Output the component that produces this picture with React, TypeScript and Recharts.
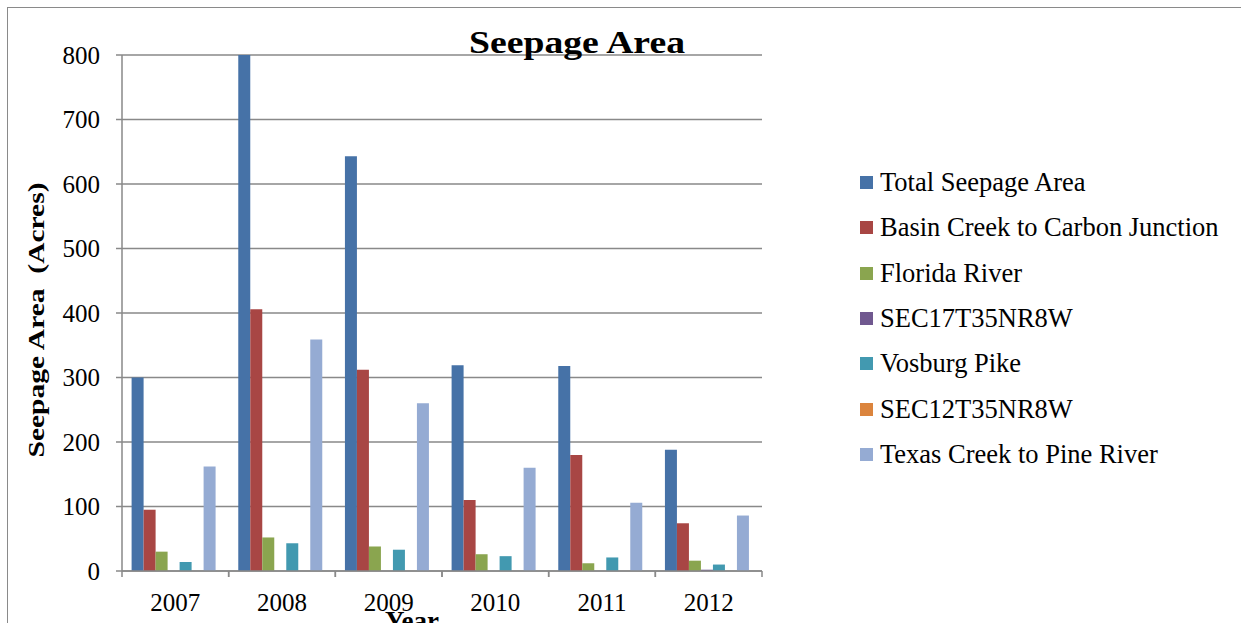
import React from 'react';
import { BarChart, Bar, XAxis, YAxis, CartesianGrid, Legend } from 'recharts';

const years = ['2007', '2008', '2009', '2010', '2011', '2012'];
const totalSeepage = [300, 800, 643, 319, 318, 188];
const basinCreek = [95, 406, 312, 110, 180, 74];
const floridaRiver = [30, 52, 38, 26, 12, 16];
const sec17 = [0, 0, 0, 0, 0, 2];
const vosburgPike = [14, 43, 33, 23, 21, 10];
const sec12 = [0, 0, 0, 0, 0, 0];
const texasCreek = [162, 359, 260, 160, 106, 86];

const yTicks = [0, 100, 200, 300, 400, 500, 600, 700, 800];

const seriesNames = [
  'Total Seepage Area',
  'Basin Creek to Carbon Junction',
  'Florida River',
  'SEC17T35NR8W',
  'Vosburg Pike',
  'SEC12T35NR8W',
  'Texas Creek to Pine River',
];
const seriesValues = [totalSeepage, basinCreek, floridaRiver, sec17, vosburgPike, sec12, texasCreek];
const seriesColors = ['#4672A7', '#A84644', '#8AA54F', '#70588F', '#4299B0', '#DB843D', '#95ABD3'];
const seriesKeys = ['s0', 's1', 's2', 's3', 's4', 's5', 's6'];

const data = years.map((year, i) => {
  const row: Record<string, string | number> = { year };
  seriesKeys.forEach((k, j) => {
    row[k] = seriesValues[j][i];
  });
  return row;
});

const FONT = '"Liberation Serif", "Times New Roman", serif';
const GRID = '#898989';
const X_TICK_GAP = 22;
const X_TICK_LEN = 6;

const LegendContent = () => (
  <div style={{ fontFamily: FONT, fontSize: 26.5, color: '#000' }}>
    {seriesNames.map((name, i) => (
      <div key={name} style={{ display: 'flex', alignItems: 'center', height: 45.3, whiteSpace: 'nowrap' }}>
        <span style={{ display: 'inline-block', width: 13, height: 13, background: seriesColors[i], marginRight: 7 }} />
        <span>{name}</span>
      </div>
    ))}
  </div>
);

const YearTick = (props: any) => {
  const { x, y, payload } = props;
  const half = payload && typeof payload.offset === 'number' ? payload.offset : 0;
  const axisY = y - X_TICK_GAP;
  return (
    <g>
      {half > 0 && (
        <>
          <line x1={x - half} x2={x - half} y1={axisY} y2={axisY + X_TICK_LEN} stroke={GRID} strokeWidth={1.5} />
          <line x1={x + half} x2={x + half} y1={axisY} y2={axisY + X_TICK_LEN} stroke={GRID} strokeWidth={1.5} />
        </>
      )}
      <text x={x} y={y} dy="0.71em" textAnchor="middle" fill="#000" fontSize={25} fontFamily={FONT}>
        {payload.value}
      </text>
    </g>
  );
};

export default function App() {
  return (
    <div style={{ position: 'absolute', left: 0, top: 0, width: 1241, height: 623, overflow: 'hidden', background: '#fff' }}>
      <div style={{ position: 'absolute', left: 7, top: 7, width: 1300, height: 700, border: '1.5px solid #8a8a8a', boxSizing: 'border-box' }} />
      <div style={{ position: 'absolute', left: 0, top: 0 }}>
        <BarChart
          width={1241}
          height={623}
          data={data}
          margin={{ top: 55, right: 479, bottom: 0, left: 0 }}
          barCategoryGap="9%"
          barGap={0}
        >
          <CartesianGrid horizontal vertical={false} stroke={GRID} strokeWidth={1.5} />
          <XAxis
            dataKey="year"
            height={52}
            axisLine={{ stroke: GRID, strokeWidth: 1.5 }}
            tickLine={false}
            tickSize={0}
            tickMargin={X_TICK_GAP}
            tick={<YearTick />}
            interval={0}
          />
          <YAxis
            width={122}
            domain={[0, 800]}
            ticks={yTicks}
            axisLine={{ stroke: GRID, strokeWidth: 1.5 }}
            tickLine={{ stroke: GRID, strokeWidth: 1.5 }}
            tickSize={6}
            tickMargin={16}
            tick={{ fill: '#000', fontSize: 25, fontFamily: FONT }}
          />
          <Legend
            layout="vertical"
            verticalAlign="middle"
            align="center"
            content={<LegendContent />}
            wrapperStyle={{ position: 'absolute', left: 860, top: 160, width: 380 }}
          />
          {seriesKeys.map((k, i) => (
            <Bar
              key={k}
              dataKey={k}
              name={seriesNames[i]}
              fill={seriesColors[i]}
              isAnimationActive={false}
            />
          ))}
        </BarChart>
      </div>
      <svg width={1241} height={623} style={{ position: 'absolute', left: 0, top: 0, pointerEvents: 'none' }}>
        <text x={577} y={53} textAnchor="middle" fontFamily={FONT} fontWeight="bold" fontSize={31} textLength={216} lengthAdjust="spacingAndGlyphs" fill="#000">
          Seepage Area
        </text>
        <text
          x={44}
          y={320}
          transform="rotate(-90, 44, 320)"
          textAnchor="middle"
          fontFamily={FONT}
          fontWeight="bold"
          fontSize={23}
          textLength={275}
          lengthAdjust="spacingAndGlyphs"
          fill="#000"
          style={{ whiteSpace: 'pre' }}
        >
          Seepage Area  (Acres)
        </text>
        <text x={385} y={630} fontFamily={FONT} fontWeight="bold" fontSize={27} fill="#000">
          Year
        </text>
      </svg>
    </div>
  );
}
